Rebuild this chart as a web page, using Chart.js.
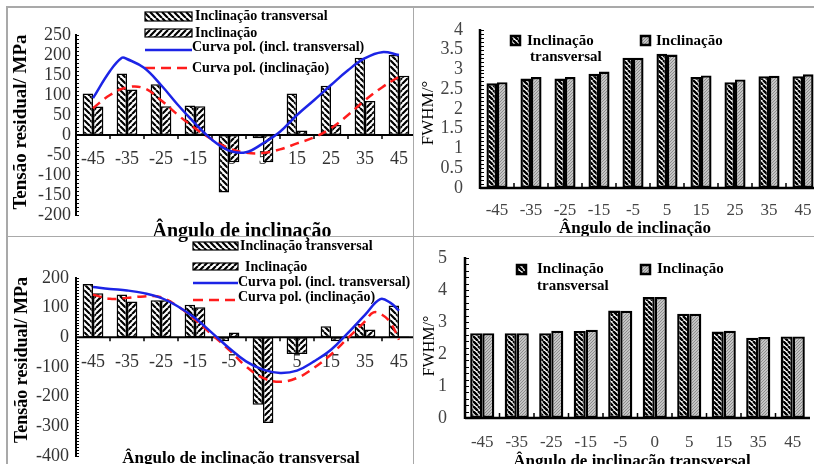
<!DOCTYPE html>
<html><head><meta charset="utf-8">
<script src="https://cdn.jsdelivr.net/npm/chart.js@4.4.1/dist/chart.umd.min.js"></script>
<style>
html,body{margin:0;padding:0;background:#fff;overflow:hidden;width:814px;height:464px;position:relative}
.w{position:absolute;overflow:hidden}
canvas{position:absolute;left:0;top:0}
.ln{position:absolute;background:#a9a9a9}
</style></head><body>
<div class="w" style="left:0;top:0;width:413px;height:245px"><canvas id="c1" width="416" height="242"></canvas><canvas id="c1l" width="416" height="242"></canvas></div>
<div class="w" style="left:413px;top:0;width:401px;height:245px"><canvas id="c2" width="420" height="242"></canvas></div>
<div class="w" style="left:0;top:236px;width:413px;height:228px"><canvas id="c3" width="416" height="228"></canvas><canvas id="c3l" width="416" height="228"></canvas></div>
<div class="w" style="left:413px;top:236px;width:401px;height:228px"><canvas id="c4" width="401" height="228"></canvas></div>
<div class="ln" style="left:6px;top:6px;width:808px;height:1.5px"></div>
<div class="ln" style="left:6px;top:6px;width:1.5px;height:458px"></div>
<div class="ln" style="left:412.5px;top:6px;width:1.5px;height:458px"></div>
<div class="ln" style="left:6px;top:235.5px;width:808px;height:1.5px"></div>
<script>
// ---------- categories ----------
const TOP_CATS = ['-45','-35','-25','-15','-5','5','15','25','35','45'];
const BOT_CATS = ['-45','-35','-25','-15','-5','0','5','15','35','45'];

// ---------- panel A: top-left, residual stress vs ângulo de inclinação ----------
const aTrans = [104,154,127,74,-144,-8,104,123,193,200];
const aIncl  = [71,114,72,72,-68,-68,11,25,85,148];
const aCurveTransX = [0,0.5,0.85,1,1.5,2,2.5,3,3.5,4,4.5,5,5.5,6,6.5,7,7.5,8,8.5,9];
const aCurveTransY = [92,160,193,190,168,125,75,29,-12,-39,-43,-21,8,50,87,125,162,192,207,200];
const aCurveInclX  = [0,0.5,1,1.5,2,2.5,3,3.5,4,4.5,5,5.5,6,6.5,7,7.5,8,8.5,9];
const aCurveInclY  = [67,100,119,117,87,50,17,-11,-33,-44,-45,-36,-21,-6,17,50,87,119,146];
const aYTicks = [250,200,150,100,50,0,-50,-100,-150,-200];

// ---------- panel B: top-right, FWHM vs ângulo de inclinação ----------
const bTrans = [2.65,2.77,2.77,2.89,3.30,3.40,2.81,2.68,2.83,2.83];
const bIncl  = [2.68,2.81,2.81,2.95,3.30,3.38,2.85,2.75,2.84,2.88];
const bYTicks = [0,0.5,1,1.5,2,2.5,3,3.5,4];

// ---------- panel C: bottom-left, residual stress vs ângulo de inclinação transversal ----------
const cTrans = [180,144,125,110,-13,-227,-56,37,45,107];
const cIncl  = [149,121,125,101,16,-289,-56,-13,26,3];
const cCurveTransX = [0,0.5,1,1.5,2,2.5,3,3.5,4,4.5,5,5.5,6,6.5,7,7.5,8,8.45,8.75,9];
const cCurveTransY = [170,163,158,149,133,104,65,15,-36,-81,-109,-120,-112,-81,-42,15,76,129,116,90];
const cCurveInclX  = [0,0.5,1,1.5,2,2.5,3,3.5,4,4.5,5,5.5,6,6.5,7,7.5,8,8.25,8.5,8.75,9];
const cCurveInclY  = [144,130,133,138,135,104,60,9,-42,-98,-137,-150,-137,-103,-58,-2,54,84,76,50,-8];
const cYTicks = [200,100,0,-100,-200,-300,-400];

// ---------- panel D: bottom-right, FWHM vs ângulo de inclinação transversal ----------
const dTrans = [2.65,2.65,2.65,2.72,3.36,3.78,3.26,2.70,2.51,2.55];
const dIncl  = [2.65,2.65,2.73,2.76,3.35,3.78,3.26,2.73,2.53,2.55];
const dYTicks = [0,1,2,3,4,5];

// ---------- texts ----------
const L_TRANS = 'Inclinação transversal';
const L_INCL = 'Inclinação';
const L_CT = 'Curva pol. (incl. transversal)';
const L_CI = 'Curva pol. (inclinação)';
const Y_STRESS = 'Tensão residual/ MPa';
const Y_FWHM = 'FWHM/°';
const X_INCL = 'Ângulo de inclinação';
const X_TRANS = 'Ângulo de inclinação transversal';

const SERIF = '"Liberation Serif","Times New Roman",serif';
const BLUE = '#1c24e6', RED = '#ff1c1c';

function hatch(dir, bg, fg, lw, s){
  const c=document.createElement('canvas'); c.width=c.height=s;
  const g=c.getContext('2d'); g.fillStyle=bg; g.fillRect(0,0,s,s);
  g.strokeStyle=fg; g.lineWidth=lw; g.beginPath();
  for(let k=-1;k<=1;k++){
    if(dir==='\\'){ g.moveTo(k*s,0); g.lineTo(k*s+s,s); }
    else { g.moveTo(k*s,s); g.lineTo(k*s+s,0); }
  }
  g.stroke();
  return document.createElement('canvas').getContext('2d').createPattern(c,'repeat');
}
const pTL = hatch('\\','#fff','#000',2.2,6);
const pIL = hatch('/','#fff','#000',2.2,6);
const pTR = hatch('\\','#fff','#000',2.4,5);
const pIR = hatch('/','#c4c4c4','#8c8c8c',1,3);

function makeDeco(o){
  return {
    id:'deco',
    beforeDatasetsDraw(chart){
      if(o.xLabelDy==null) return;
      const ctx=chart.ctx, xs=chart.scales.x, ys=chart.scales.y;
      ctx.save(); ctx.font=o.tickFont; ctx.fillStyle=o.tickColor; ctx.textAlign='center'; ctx.textBaseline='middle';
      const yy=ys.getPixelForValue(0)+o.xLabelDy;
      chart.data.labels.forEach((l,i)=>ctx.fillText(l, xs.getPixelForValue(i), yy));
      ctx.restore();
    },
    afterDatasetsDraw(chart){
      const ctx=chart.ctx, xs=chart.scales.x, ys=chart.scales.y, ca=chart.chartArea;
      ctx.save();
      ctx.strokeStyle='#000';
      ctx.lineWidth=o.axisW; ctx.beginPath();
      ctx.moveTo(ca.left, ys.getPixelForValue(o.yMax)-1); ctx.lineTo(ca.left, ys.getPixelForValue(o.yMin)+1); ctx.stroke();
      ctx.lineWidth=1; ctx.beginPath();
      const n=Math.round((o.yMax-o.yMin)/o.minor);
      for(let k=0;k<=n;k++){ const y=Math.round(ys.getPixelForValue(o.yMin+k*o.minor))+0.5; ctx.moveTo(ca.left, y); ctx.lineTo(ca.left+o.minorLen, y); }
      ctx.stroke();
      const y0=ys.getPixelForValue(0);
      ctx.lineWidth=o.axisW; ctx.beginPath(); ctx.moveTo(ca.left,y0); ctx.lineTo(ca.right,y0); ctx.stroke();
      ctx.lineWidth=1.5; ctx.beginPath();
      for(let i=1;i<chart.data.labels.length;i++){ const x=(xs.getPixelForValue(i-1)+xs.getPixelForValue(i))/2; ctx.moveTo(x,y0); ctx.lineTo(x,y0+o.bTick); }
      ctx.stroke();
      ctx.font=o.tickFont; ctx.fillStyle=o.tickColor; ctx.textAlign='right'; ctx.textBaseline='middle';
      o.yTicks.forEach(v=>ctx.fillText(String(v), o.yLabelX-o.ox, ys.getPixelForValue(v)));
      if(o.xLabelY!=null){
        ctx.font=o.xTickFont||o.tickFont; ctx.textAlign='center';
        chart.data.labels.forEach((l,i)=>ctx.fillText(l, xs.getPixelForValue(i), o.xLabelY-o.oy));
      }
      ctx.fillStyle='#000'; ctx.textAlign='center'; ctx.textBaseline='alphabetic';
      ctx.font=o.xTitle.font; ctx.fillText(o.xTitle.text, o.xTitle.x-o.ox, o.xTitle.y-o.oy);
      ctx.save(); ctx.translate(o.yTitle.x-o.ox, o.yTitle.y-o.oy); ctx.rotate(-Math.PI/2);
      ctx.font=o.yTitle.font; ctx.textBaseline='middle'; ctx.fillText(o.yTitle.text,0,0); ctx.restore();
      o.legend.forEach(e=>{
        if(e.box){
          const [x,y,w,h]=e.box;
          ctx.fillStyle=e.fill; ctx.fillRect(x-o.ox,y-o.oy,w,h);
          ctx.lineWidth=e.lw; ctx.strokeStyle='#000'; ctx.strokeRect(x-o.ox,y-o.oy,w,h);
        }
        if(e.line){
          const [x1,x2,y]=e.line;
          ctx.strokeStyle=e.color; ctx.lineWidth=2.5; ctx.setLineDash(e.dash||[]);
          ctx.beginPath(); ctx.moveTo(x1-o.ox,y-o.oy); ctx.lineTo(x2-o.ox,y-o.oy); ctx.stroke(); ctx.setLineDash([]);
        }
        (e.texts||[]).forEach(t=>{
          ctx.fillStyle='#000'; ctx.font=o.legendFont; ctx.textAlign='left'; ctx.textBaseline='middle';
          ctx.fillText(t[0], t[1]-o.ox, t[2]-o.oy);
        });
      });
      ctx.restore();
    }
  };
}

function makeChart(id, cats, trans, incl, pats, curves, o){
  new Chart(document.getElementById(id), {
    type:'bar',
    data:{labels:cats, datasets:[
      {data:trans, backgroundColor:pats[0], borderColor:'#000', borderWidth:o.bw, borderSkipped:false, categoryPercentage:o.cp, barPercentage:1},
      {data:incl, backgroundColor:pats[1], borderColor:'#000', borderWidth:o.bw, borderSkipped:false, categoryPercentage:o.cp, barPercentage:1}
    ]},
    options:{
      responsive:false, animation:false, events:[],
      layout:{padding:o.pad},
      plugins:{legend:{display:false}, tooltip:{enabled:false}},
      scales:{
        x:{type:'category', display:false, offset:true},
        y:{type:'linear', display:false, min:o.yMin, max:o.yMax}
      }
    },
    plugins:[makeDeco(o)]
  });
  if(curves.length){
    new Chart(document.getElementById(id+'l'), {
      type:'line',
      data:{datasets:curves.map(c=>({data:c.x.map((x,i)=>({x:x,y:c.y[i]})), borderColor:c.color, borderWidth:2.5, borderDash:c.dash||[], pointRadius:0, tension:0.4, fill:false}))},
      options:{
        responsive:false, animation:false, events:[],
        layout:{padding:o.pad},
        plugins:{legend:{display:false}, tooltip:{enabled:false}},
        scales:{
          x:{type:'linear', display:false, min:-0.5, max:9.5, offset:false},
          y:{type:'linear', display:false, min:o.yMin, max:o.yMax}
        }
      }
    });
  }
}

// Panel A
makeChart('c1', TOP_CATS, aTrans, aIncl, [pTL,pIL], [
  {x:aCurveTransX, y:aCurveTransY, color:BLUE},
  {x:aCurveInclX, y:aCurveInclY, color:RED, dash:[9,6]}
], {ox:0, oy:0, pad:{left:76,right:0,top:35,bottom:27}, cp:0.61, bw:1.5,
  yMin:-200, yMax:250, minor:10, minorLen:3, axisW:2, bTick:4, yTicks:aYTicks, yLabelX:71,
  tickFont:'18px '+SERIF, tickColor:'#333', xLabelDy:24,
  xTitle:{text:X_INCL, x:242, y:237, font:'bold 20px '+SERIF},
  yTitle:{text:Y_STRESS, x:21, y:122, font:'bold 19px '+SERIF},
  legendFont:'bold 14px '+SERIF,
  legend:[
    {box:[145,12,47,9], fill:pTL, lw:1.2, texts:[[L_TRANS,195,16]]},
    {box:[145,29,47,8], fill:pIL, lw:1.2, texts:[[L_INCL,195,33]]},
    {line:[145,192,50], color:BLUE, texts:[[L_CT,192,47]]},
    {line:[145,192,68], color:RED, dash:[10,6], texts:[[L_CI,192,68]]}
  ]});

// Panel B
makeChart('c2', TOP_CATS, bTrans, bIncl, [pTR,pIR], [], {ox:413, oy:0, pad:{left:67,right:13,top:30,bottom:54}, cp:0.62, bw:2.4,
  yMin:0, yMax:4, minor:0.1, minorLen:4, axisW:2.5, bTick:-5, yTicks:bYTicks, yLabelX:463,
  tickFont:'18px '+SERIF, xTickFont:'17px '+SERIF, tickColor:'#444', xLabelY:211,
  xTitle:{text:X_INCL, x:635, y:233, font:'bold 17px '+SERIF},
  yTitle:{text:Y_FWHM, x:429, y:113, font:'17px '+SERIF},
  legendFont:'bold 15px '+SERIF,
  legend:[
    {box:[511,36,9,9], fill:pTR, lw:2.5, texts:[[L_INCL,527,41],['transversal',530,57]]},
    {box:[641,36,9,9], fill:pIR, lw:2.5, texts:[[L_INCL,656,41]]}
  ]});

// Panel C
makeChart('c3', BOT_CATS, cTrans, cIncl, [pTL,pIL], [
  {x:cCurveTransX, y:cCurveTransY, color:BLUE},
  {x:cCurveInclX, y:cCurveInclY, color:RED, dash:[9,6]}
], {ox:0, oy:236, pad:{left:76,right:0,top:42,bottom:8}, cp:0.61, bw:1.5,
  yMin:-400, yMax:200, minor:10, minorLen:3, axisW:2, bTick:4, yTicks:cYTicks, yLabelX:69,
  tickFont:'18px '+SERIF, tickColor:'#333', xLabelDy:25,
  xTitle:{text:X_TRANS, x:241, y:463, font:'bold 17px '+SERIF},
  yTitle:{text:Y_STRESS, x:22, y:360, font:'bold 18px '+SERIF},
  legendFont:'bold 14px '+SERIF,
  legend:[
    {box:[193,242,45,8], fill:pTL, lw:1.2, texts:[[L_TRANS,240,246]]},
    {box:[193,263,45,7], fill:pIL, lw:1.2, texts:[[L_INCL,245,267]]},
    {line:[193,238,283], color:BLUE, texts:[[L_CT,238,282]]},
    {line:[193,238,300], color:RED, dash:[10,6], texts:[[L_CI,238,297]]}
  ]});

// Panel D
makeChart('c4', BOT_CATS, dTrans, dIncl, [pTR,pIR], [], {ox:413, oy:236, pad:{left:52,right:4,top:22,bottom:46}, cp:0.70, bw:2.4,
  yMin:0, yMax:5, minor:0.2, minorLen:4, axisW:2.5, bTick:-5, yTicks:dYTicks, yLabelX:447,
  tickFont:'18px '+SERIF, xTickFont:'17px '+SERIF, tickColor:'#444', xLabelY:443,
  xTitle:{text:X_TRANS, x:632, y:466, font:'bold 17px '+SERIF},
  yTitle:{text:Y_FWHM, x:430, y:346, font:'16px '+SERIF},
  legendFont:'bold 15px '+SERIF,
  legend:[
    {box:[517,265,9,9], fill:pTR, lw:2.5, texts:[[L_INCL,537,269],['transversal',537,286]]},
    {box:[641,265,9,9], fill:pIR, lw:2.5, texts:[[L_INCL,657,269]]}
  ]});
</script>
</body></html>
